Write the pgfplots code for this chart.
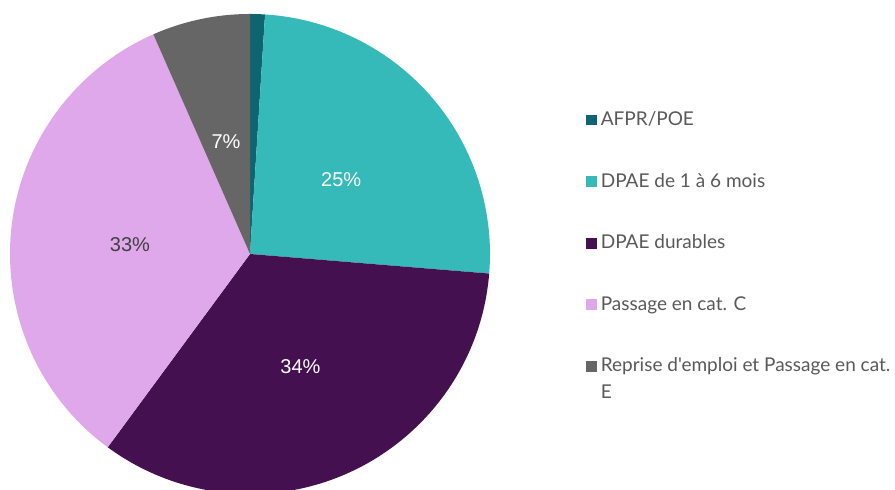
\documentclass[border=0pt]{standalone}
\usepackage{fontspec}
\setmainfont{Liberation Sans}
\newfontfamily\legfont{Lato}
\usepackage{pgfplots}
\pgfplotsset{compat=1.18}

\definecolor{cAfpr}{HTML}{0E6571}
\definecolor{cCourt}{HTML}{35B9B9}
\definecolor{cDurable}{HTML}{45104F}
\definecolor{cCatC}{HTML}{DFA8EB}
\definecolor{cReprise}{HTML}{666666}
\definecolor{legtext}{HTML}{595959}

% slice: colour, cumulative start %, cumulative end % (clockwise from 12 o'clock)
\newcommand{\R}{120pt}
\newcommand{\slice}[3]{%
  \fill[#1] (axis cs:0,0) -- ++({90-3.6*(#2)}:\R)
    arc[start angle={90-3.6*(#2)}, end angle={90-3.6*(#3)}, radius=\R] -- cycle;}

\begin{document}
\begin{tikzpicture}
\begin{axis}[
  at={(125pt,118pt)}, anchor=center,
  x=120pt, y=120pt,
  xmin=-1, xmax=1, ymin=-1, ymax=1,
  hide axis, clip=false,
  legend image code/.code={\fill[#1] (0pt,-2.4pt) rectangle (4.8pt,2.4pt);},
  legend cell align=left,
  legend style={draw=none, fill=none, inner sep=0pt,
    at={(axis cs:1.40,0.612)}, anchor=north west,
    font=\legfont\fontsize{9.5pt}{13.5pt}\selectfont, text=legtext,
    row sep=18.3pt, cells={align=left}},
]
% shares in percent: 1.0, 25.3, 33.8, 33.3, 6.6
\slice{cAfpr}{0}{1.0}
\slice{cCourt}{1.0}{26.3}
\slice{cDurable}{26.3}{60.1}
\slice{cCatC}{60.1}{93.4}
\slice{cReprise}{93.4}{100}

\addlegendimage{cAfpr}\addlegendentry{AFPR/POE}
\addlegendimage{cCourt}\addlegendentry{DPAE de 1 à 6 mois}
\addlegendimage{cDurable}\addlegendentry{DPAE durables}
\addlegendimage{cCatC}\addlegendentry{Passage en cat. C}
\addlegendimage{legend image code/.code={\fill[cReprise] (0pt,4.35pt) rectangle (4.8pt,9.15pt);}}
\addlegendentry{Reprise d'emploi et Passage en cat.\\E}

\begin{scope}[font=\fontsize{10pt}{12pt}\selectfont]
\node[white] at (axis cs:-0.10,0.47) {7\%};
\node[white] at (axis cs:0.38,0.31) {25\%};
\node[black!75] at (axis cs:-0.50,0.04) {33\%};
\node[white] at (axis cs:0.21,-0.47) {34\%};
\end{scope}
\end{axis}
\pgfresetboundingbox
\useasboundingbox (0,0) rectangle (447.5pt,245pt);
\end{tikzpicture}
\end{document}
